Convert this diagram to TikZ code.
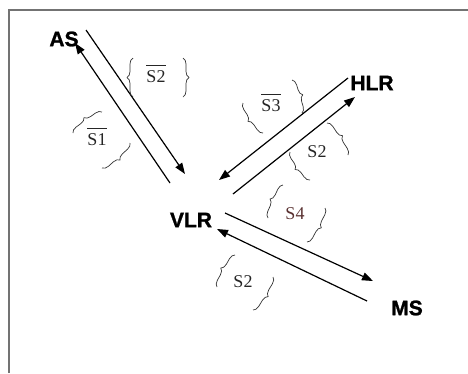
\documentclass[tikz,border=0pt]{standalone}
\usepackage{fontspec}
\setmainfont{Liberation Serif}
\newfontfamily\entfont{Liberation Sans}[BoldFeatures={FakeBold=1.2}]
\usetikzlibrary{arrows.meta,decorations.pathreplacing}
\newcommand\barsig[1]{$\overline{\rule{0pt}{15.5pt}\mbox{#1}}$}
\begin{document}
\begin{tikzpicture}[x=1pt,y=-1pt,
  ent/.style={font=\entfont\bfseries\fontsize{21}{21}\selectfont, inner sep=0pt},
  sig/.style={font=\fontsize{18}{18}\selectfont, text=black!85, inner sep=0pt, anchor=base},
  msg/.style={line width=1.2pt, -{Triangle[length=11pt,width=8pt]}},
  brc/.style={decorate, decoration={brace, amplitude=6pt}, line width=0.7pt, draw=black!80},
  frm/.style={draw=black!55, line width=2pt}]
\useasboundingbox (0,0) rectangle (468,373);
\draw[frm] (8.5,373) -- (8.5,10) -- (468,10);

% entities
\node[ent] (AS)  at (64,39)   {AS};
\node[ent] (HLR) at (372,83)  {HLR};
\node[ent] (VLR) at (191,220) {VLR};
\node[ent] (MS)  at (407,308) {MS};

% arrow end points
\coordinate (as1) at (86,30);   \coordinate (vl1) at (185,174);
\coordinate (vl2) at (170,183); \coordinate (as2) at (75,43);
\coordinate (hl3) at (348,78);  \coordinate (vl3) at (219,180);
\coordinate (vl4) at (233,194); \coordinate (hl4) at (355,97);
\coordinate (vl5) at (225,213); \coordinate (ms5) at (373,281);
\coordinate (ms6) at (367,301); \coordinate (vl6) at (217,229);

\draw[msg] (as1) -- (vl1);
\draw[msg] (vl2) -- (as2);
\draw[msg] (hl3) -- (vl3);
\draw[msg] (vl4) -- (hl4);
\draw[msg] (vl5) -- (ms5);
\draw[msg] (ms6) -- (vl6);

% signal labels
\node[sig] (s2a) at (156,82)  {\barsig{S2}};
\node[sig] (s1)  at (97,145)  {\barsig{S1}};
\node[sig] (s3)  at (271,111) {\barsig{S3}};
\node[sig] (s2b) at (317,157) {S2};
\node[sig, text={rgb,255:red,90;green,50;blue,50}] (s4) at (295,219) {S4};
\node[sig] (s2c) at (243,287) {S2};

% braces
\draw[brc] (133,97) -- (133,58);
\draw[brc] (183,58) -- (183,97);
\draw[brc] (73,133) -- (102,112);
\draw[brc] (130,143) -- (102,168);
\draw[brc] (263,133) -- (243,103);
\draw[brc] (292,80) -- (302,113);
\draw[brc] (310,180) -- (290,152);
\draw[brc] (327,123) -- (348,155);
\draw[brc] (268,218) -- (283,185);
\draw[brc] (325,208) -- (307,242);
\draw[brc] (217,287) -- (235,255);
\draw[brc] (273,277) -- (253,310);
\end{tikzpicture}
\end{document}
